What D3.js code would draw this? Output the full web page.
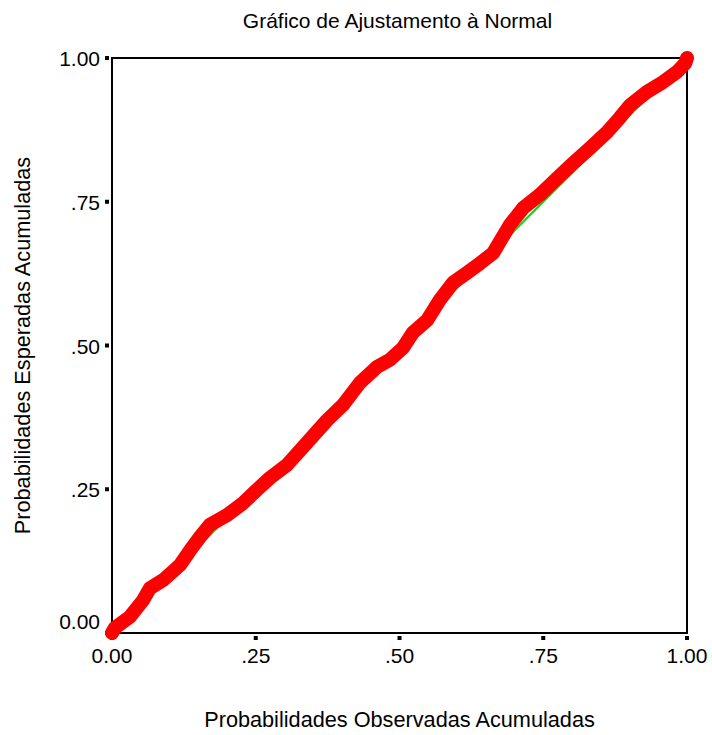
<!DOCTYPE html>
<meta charset="utf-8">
<style>
body {
  margin: 0;
  background: #fff;
  font-family: "Liberation Sans", Arial, sans-serif;
}
text {
  fill: #000;
}
</style>
<body>
<script src="https://d3js.org/d3.v7.min.js"></script>
<script>

var width = 712,
    height = 735,
    margin = {top: 58, right: 25, bottom: 102, left: 112};

var title = "Gráfico de Ajustamento à Normal",
    xTitle = "Probabilidades Observadas Acumuladas",
    yTitle = "Probabilidades Esperadas Acumuladas";

var tickValues = [0, 0.25, 0.5, 0.75, 1];
var tickLabels = ["0.00", ".25", ".50", ".75", "1.00"];

var observed = [0, .005, .031, .054, .066, .089, .118, .136, .153, .170, .200, .228, .252, .275, .304, .332,
  .374, .402, .431, .461, .483, .506, .523, .548, .570, .593, .617, .640, .663, .692, .715, .744,
  .774, .802, .831, .861, .883, .901, .930, .958, .983, .997, 1];
var expected = [0, .009, .028, .057, .078, .092, .118, .144, .167, .188, .205, .226, .249, .270, .292, .323,
  .370, .397, .435, .463, .475, .496, .522, .544, .579, .609, .626, .643, .661, .710, .739, .762,
  .791, .817, .843, .871, .896, .918, .941, .958, .976, .991, 1];

var reference = [0, 1];

var w = width - margin.left - margin.right,
    h = height - margin.top - margin.bottom;

var svg = d3.select("body").append("svg")
    .attr("width", width)
    .attr("height", height);

var x = d3.scaleLinear().domain([0, 1]).range([margin.left, margin.left + w]);
var y = d3.scaleLinear().domain([0, 1]).range([margin.top + h, margin.top]);

svg.append("text")
  .attr("x", x(0.5) - 2)
  .attr("y", 28)
  .attr("text-anchor", "middle")
  .style("font-size", "21px")
  .text(title);

// frame
svg.append("rect")
  .attr("x", x(0))
  .attr("y", y(1))
  .attr("width", x(1) - x(0))
  .attr("height", y(0) - y(1))
  .attr("fill", "none")
  .attr("stroke", "#000")
  .attr("stroke-width", 2);

// tick squares
svg.selectAll(".xt").data(tickValues).enter().append("rect")
  .attr("x", function(d){ return x(d) - 2; })
  .attr("y", y(0) + 3)
  .attr("width", 4)
  .attr("height", 4)
  .attr("fill", "#000");

svg.selectAll(".yt").data(tickValues).enter().append("rect")
  .attr("x", x(0) - 7)
  .attr("y", function(d){ return y(d) - 2; })
  .attr("width", 4)
  .attr("height", 4)
  .attr("fill", "#000");

// tick labels
svg.selectAll(".xl").data(tickValues).enter().append("text")
  .attr("x", function(d){ return x(d); })
  .attr("y", y(0) + 30)
  .attr("text-anchor", "middle")
  .style("font-size", "21px")
  .text(function(d, i){ return tickLabels[i]; });

svg.selectAll(".yl").data(tickValues).enter().append("text")
  .attr("x", x(0) - 12)
  .attr("y", function(d){ return y(d) + 8 - (d === 0 ? 12 : 0); })
  .attr("text-anchor", "end")
  .style("font-size", "21px")
  .text(function(d, i){ return tickLabels[i]; });

// axis titles
svg.append("text")
  .attr("x", x(0.5))
  .attr("y", 727)
  .attr("text-anchor", "middle")
  .style("font-size", "21.7px")
  .text(xTitle);

svg.append("text")
  .attr("transform", "translate(30," + y(0.5) + ") rotate(-90)")
  .attr("text-anchor", "middle")
  .style("font-size", "21.7px")
  .text(yTitle);

// reference diagonal
svg.append("line")
  .attr("x1", x(reference[0])).attr("y1", y(reference[0]))
  .attr("x2", x(reference[1])).attr("y2", y(reference[1]))
  .attr("stroke", "#00e000")
  .attr("stroke-width", 2);

// observed points, drawn as a thick band
var pts = observed.map(function(o, i){ return [o, expected[i]]; });
var line = d3.line()
  .x(function(d){ return x(d[0]); })
  .y(function(d){ return y(d[1]); });

svg.append("path")
  .datum(pts)
  .attr("d", line)
  .attr("fill", "none")
  .attr("stroke", "#ff0000")
  .attr("stroke-width", 14)
  .attr("stroke-linecap", "round")
  .attr("stroke-linejoin", "round");

</script>
